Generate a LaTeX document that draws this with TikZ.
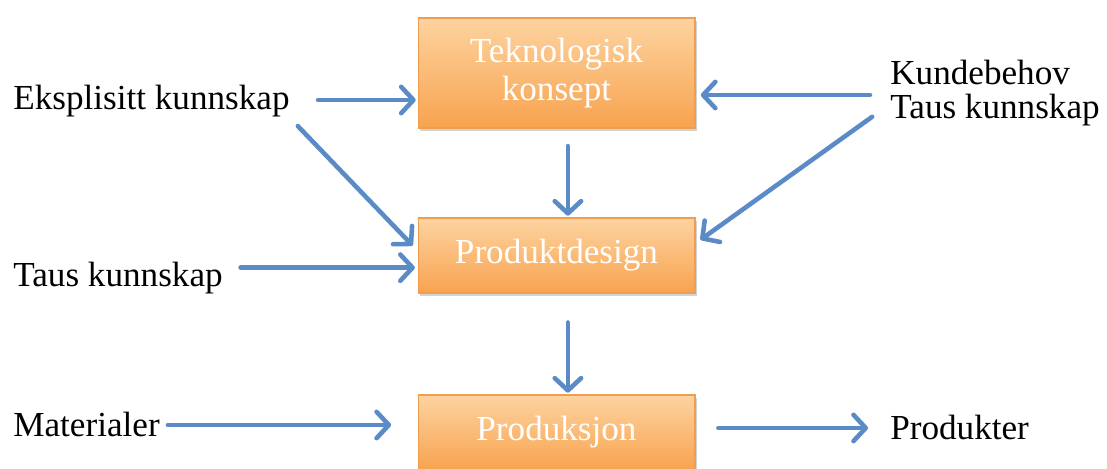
\documentclass[tikz,border=0pt]{standalone}
\usepackage{fontspec}
\setmainfont{Liberation Serif}
\usetikzlibrary{arrows.meta,shadows}

\definecolor{pilblaa}{HTML}{5A8BC7}
\definecolor{bokstopp}{HTML}{FDD3A0}
\definecolor{boksbunn}{HTML}{F8A34F}
\definecolor{boksrand}{HTML}{EE9E4E}

\begin{document}
\begin{tikzpicture}[x=0.02cm, y=-0.02cm,
    boks/.style={draw=boksrand, line width=0.6pt, top color=bokstopp, bottom color=boksbunn,
        minimum width=5.54cm, minimum height=1.5cm, text=white, align=center,
        font=\fontsize{20}{21.6}\selectfont,
        drop shadow={opacity=0.35, shadow xshift=1pt, shadow yshift=-1.5pt}},
    tekst/.style={inner sep=0pt, font=\fontsize{20}{19}\selectfont},
    pil/.style={draw=pilblaa, line width=2.6pt, line cap=round,
        -{Straight Barb[length=7pt, width=15pt, line cap=round, line join=round]}}]

    % ramme for hele figuren
    \useasboundingbox (0,0) rectangle (1107,469);

    % de tre boksene
    \node[boks, minimum height=2.2cm] (konsept) at (556.5,73) {Teknologisk\\konsept};
    \node[boks] (design) at (556.5,255.5) {Produktdesign};
    \node[boks] (prod) at (556.5,432.5) {Produksjon};

    % tekst til venstre og høyre
    \node[tekst, anchor=base west] (eksp) at (13,110) {Eksplisitt kunnskap};
    \node[tekst, anchor=base west] (taus) at (13,287) {Taus kunnskap};
    \node[tekst, anchor=base west] (mat) at (13,437) {Materialer};
    \node[tekst, anchor=base west] (ut) at (890,440) {Produkter};
    \node[tekst, anchor=north west, align=left] (kunde) at (890,60) {Kundebehov\\Taus kunnskap};

    % piler inn fra venstre
    \draw[pil, shorten <=16pt, shorten >=1pt] (eksp.east |- konsept.191) -- (konsept.191);
    \draw[pil, shorten <=6.5pt, shorten >=4pt] (eksp.south east) -- (design.178);
    \draw[pil, shorten <=10pt, shorten >=1.5pt] (taus.east |- design.185) -- (design.185);
    \draw[pil, shorten <=4.5pt, shorten >=15pt] (mat.east) -- (mat.east -| prod.west);

    % piler inn fra høyre
    \draw[pil, shorten <=11.4pt, shorten >=3pt] (kunde.west |- konsept.351) -- (konsept.351);
    \draw[pil, shorten <=12.5pt, shorten >=3.5pt] ([yshift=-6.3pt]kunde.west) -- (design.5);

    % piler nedover
    \draw[pil, shorten <=10pt, shorten >=1pt] ([xshift=6.5pt]konsept.south) -- ([xshift=6.5pt]design.north);
    \draw[pil, shorten <=16.5pt, shorten >=1pt] ([xshift=6.5pt]design.south) -- ([xshift=6.5pt]prod.north);

    % pil ut
    \draw[pil, shorten <=13pt, shorten >=12.5pt] (prod.east |- ut.west) -- (ut.west);

\end{tikzpicture}
\end{document}
